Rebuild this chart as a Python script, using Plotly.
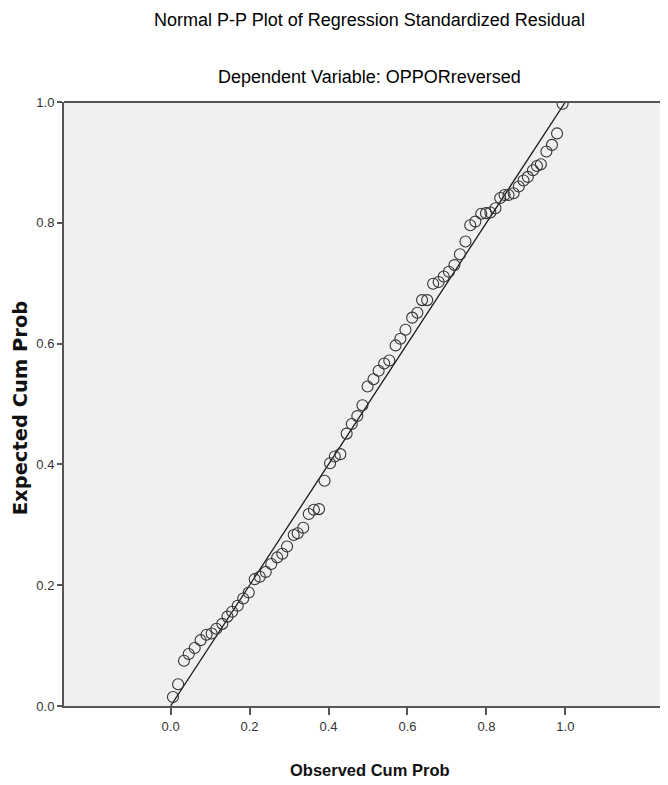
import plotly.graph_objects as go

# Observed cumulative probability (x) and expected cumulative probability (y)
observed = [0.006, 0.019, 0.034, 0.046, 0.061, 0.076, 0.091, 0.104, 0.116, 0.131,
            0.144, 0.156, 0.170, 0.184, 0.198, 0.213, 0.226, 0.241, 0.255, 0.270,
            0.283, 0.295, 0.312, 0.322, 0.336, 0.350, 0.363, 0.376, 0.390, 0.404,
            0.416, 0.430, 0.446, 0.459, 0.473, 0.486, 0.499, 0.514, 0.527, 0.541,
            0.554, 0.570, 0.582, 0.595, 0.612, 0.625, 0.637, 0.650, 0.665, 0.679,
            0.692, 0.705, 0.719, 0.733, 0.747, 0.759, 0.772, 0.787, 0.799, 0.810,
            0.823, 0.835, 0.846, 0.856, 0.869, 0.882, 0.894, 0.905, 0.918, 0.928,
            0.938, 0.952, 0.966, 0.979, 0.993]
expected = [0.015, 0.036, 0.075, 0.086, 0.096, 0.109, 0.118, 0.120, 0.128, 0.136,
            0.148, 0.156, 0.166, 0.178, 0.188, 0.210, 0.214, 0.222, 0.235, 0.246,
            0.252, 0.264, 0.283, 0.286, 0.295, 0.318, 0.325, 0.326, 0.373, 0.402,
            0.413, 0.417, 0.451, 0.467, 0.480, 0.498, 0.529, 0.541, 0.555, 0.567,
            0.572, 0.597, 0.608, 0.623, 0.643, 0.651, 0.672, 0.672, 0.699, 0.702,
            0.711, 0.719, 0.730, 0.748, 0.769, 0.796, 0.802, 0.815, 0.816, 0.817,
            0.824, 0.841, 0.846, 0.846, 0.849, 0.860, 0.870, 0.876, 0.887, 0.894,
            0.897, 0.918, 0.929, 0.948, 0.997]

ref_line_x = [0.0, 1.0]
ref_line_y = [0.0, 1.0]
tick_vals = [0.0, 0.2, 0.4, 0.6, 0.8, 1.0]

title_main = "Normal P-P Plot of Regression Standardized Residual"
title_sub = "Dependent Variable: OPPORreversed"
x_title = "Observed Cum Prob"
y_title = "Expected Cum Prob"

FONT = "Liberation Sans, Arial, sans-serif"
AXIS_COL = "#555555"

fig = go.Figure()
fig.add_trace(go.Scatter(x=ref_line_x, y=ref_line_y, mode="lines",
                         line=dict(color="#1a1a1a", width=1.3),
                         hoverinfo="skip", showlegend=False))
fig.add_trace(go.Scatter(x=observed, y=expected, mode="markers",
                         marker=dict(symbol="circle-open", size=11,
                                     color="#333333", line=dict(width=1.1)),
                         showlegend=False))

# the page has an 8px body margin, so the figure is sized/offset to compensate
fig.update_layout(
    width=660, height=777,
    margin=dict(l=56, r=0, t=94, b=79),
    paper_bgcolor="white",
    plot_bgcolor="#F0F0F0",
    showlegend=False,
    font=dict(family=FONT, color="#222222"),
)
fig.update_xaxes(
    range=[-0.27, 1.26], tickvals=tick_vals, ticktext=["%.1f" % v for v in tick_vals],
    showgrid=False, zeroline=False,
    showline=True, linecolor=AXIS_COL, linewidth=2,
    ticks="outside", ticklen=7, tickcolor=AXIS_COL, tickwidth=1.5,
    tickfont=dict(family=FONT, size=13, color="#333333"),
)
fig.update_yaxes(
    range=[0, 1], tickvals=tick_vals, ticktext=["%.1f" % v for v in tick_vals],
    showgrid=False, zeroline=False,
    showline=True, linecolor=AXIS_COL, linewidth=2,
    ticks="outside", ticklen=5, tickcolor=AXIS_COL, tickwidth=1.5,
    tickfont=dict(family=FONT, size=13, color="#333333"),
)
# top border of the plot frame
fig.add_shape(type="line", xref="paper", yref="paper", x0=0, x1=1, y0=1, y1=1,
              line=dict(color=AXIS_COL, width=2))

fig.add_annotation(text=title_main, xref="paper", yref="paper", x=0.505, y=1,
                   yanchor="middle", yshift=82, showarrow=False,
                   font=dict(family=FONT, size=18, color="#000000"))
fig.add_annotation(text=title_sub, xref="paper", yref="paper", x=0.505, y=1,
                   yanchor="middle", yshift=25, showarrow=False,
                   font=dict(family=FONT, size=18, color="#000000"))
fig.add_annotation(text="<b>" + x_title + "</b>", xref="x", yref="paper", x=0.504, y=0,
                   yanchor="middle", yshift=-64, showarrow=False,
                   font=dict(family=FONT, size=16.5, color="#111111"))
fig.add_annotation(text="<b>" + y_title + "</b>", xref="paper", yref="paper", x=0, y=0.493,
                   xanchor="center", yanchor="middle", xshift=-44, textangle=-90,
                   showarrow=False,
                   font=dict(family="DejaVu Sans", size=19.5, color="#111111"))

fig.write_html("out.html")
